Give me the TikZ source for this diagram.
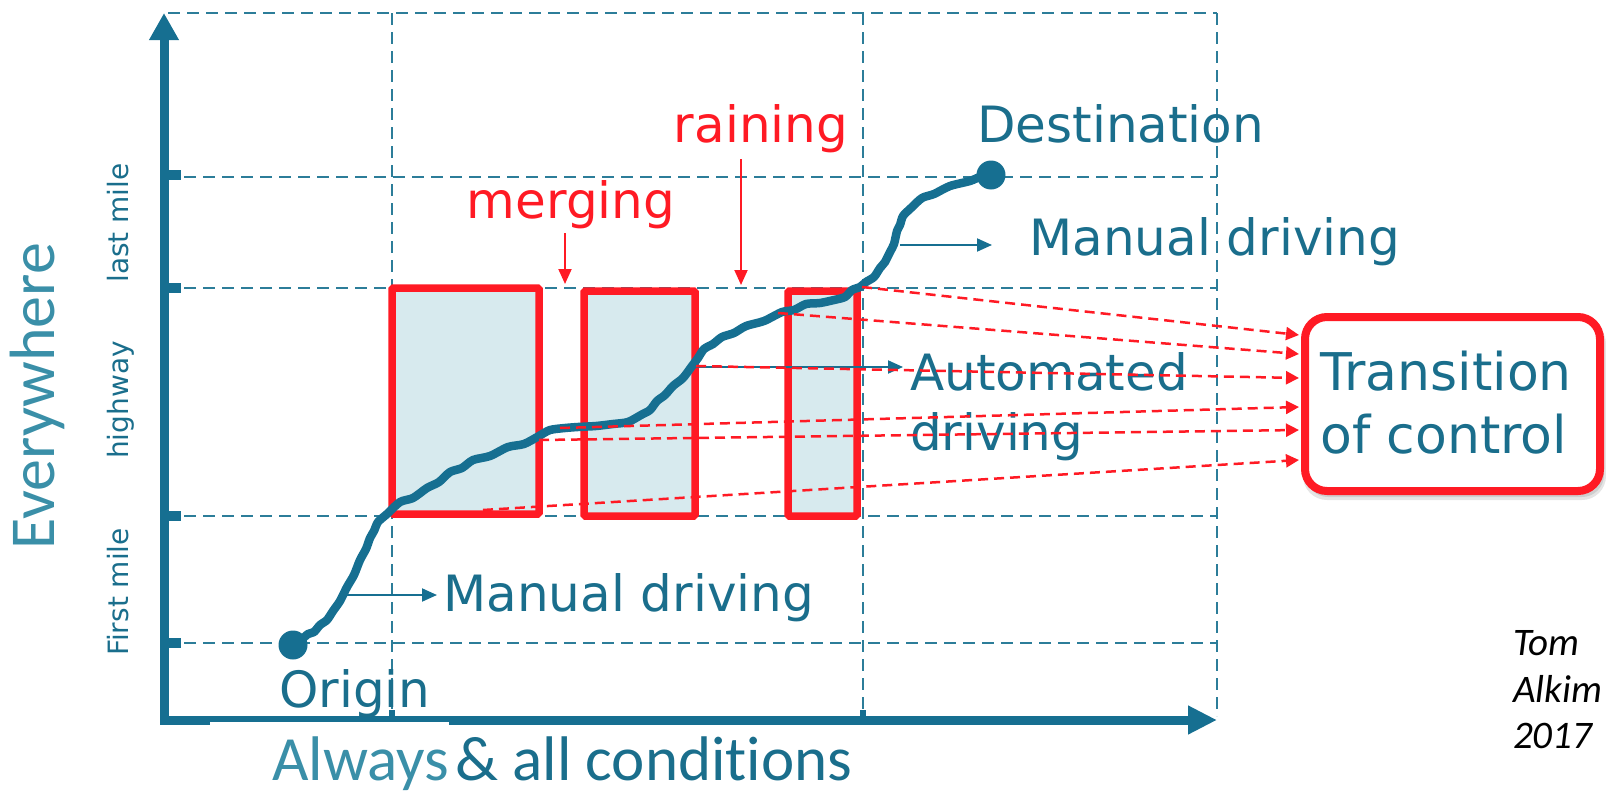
\documentclass[tikz,border=0pt]{standalone}
\usepackage{fontspec}
\setmainfont{DejaVu Sans}
\newfontfamily\carl{Carlito}[Ligatures=NoCommon]
\usetikzlibrary{arrows.meta}
\definecolor{tblue}{HTML}{1A6E8C}
\definecolor{ablue}{HTML}{166F91}
\definecolor{lblue}{HTML}{3A8FA8}
\definecolor{gblue}{HTML}{2C7D99}
\definecolor{rred}{HTML}{FF1A24}
\definecolor{bfill}{HTML}{D7EAEE}
\begin{document}
\begin{tikzpicture}[x=1pt,y=-1pt,
 gridline/.style={gblue, line width=2pt, dash pattern=on 12pt off 7pt},
 redbox/.style={draw=rred, line width=7.5pt, fill=bfill, rounded corners=1.5pt, inner sep=0pt},
 reddash/.style={rred, line width=2.5pt, dash pattern=on 10pt off 6pt, -{Triangle[length=13pt,width=13pt]}},
 redarrow/.style={rred, line width=2pt, -{Triangle[length=15pt,width=13pt]}},
 thinarrow/.style={ablue, line width=2pt, -{Triangle[length=15pt,width=13pt]}},
 bigtext/.style={text=tblue, font=\fontsize{50}{60}\selectfont, inner sep=0pt, anchor=base west},
 redtext/.style={text=rred, font=\fontsize{50}{60}\selectfont, inner sep=0pt, anchor=base},
 sidelabel/.style={text=tblue, font=\fontsize{28}{32}\selectfont, rotate=90, anchor=base, inner sep=0pt},
 signature/.style={font=\carl\itshape\fontsize{39}{48}\selectfont, anchor=base west, inner sep=0pt},
 tick/.style={fill=ablue},
 dot/.style={circle, fill=ablue, minimum size=29pt, inner sep=0pt},
]
\useasboundingbox (0,0) rectangle (1606,795);

% grid
\draw[gridline] (168,13) -- (1217,13);
\foreach \yy in {177,288,516,643} \draw[gridline] (184,\yy) -- (1217,\yy);
\foreach \xx in {392,863,1217} \draw[gridline] (\xx,13) -- (\xx,716);

% axes
\coordinate (ytop) at (164,13);
\coordinate (corner) at (164,720);
\coordinate (xend) at (1217,720);
\draw[ablue, line width=9pt, line join=miter,
  {Triangle[length=27pt,width=28pt]}-{Triangle[length=29pt,width=27pt]}] (ytop) -- (corner) -- (xend);
\foreach \yy in {175,288,516,643} \fill[tick] (164,\yy-5) rectangle (181,\yy+5);
\fill[tick] (389,710) rectangle (395,720);
\fill[tick] (860,710) rectangle (866,720);
\fill[white] (210,721.5) rectangle (449,727);

% red boxes
\node[redbox, minimum width=147pt, minimum height=226pt] (b1) at (465.5,401) {};
\node[redbox, minimum width=111pt, minimum height=225pt] (b2) at (639.5,403.5) {};
\node[redbox, minimum width=69pt, minimum height=225pt] (b3) at (822.5,403.5) {};

% curve
\draw[ablue, line width=8.5pt, line cap=round, line join=round]
  plot[smooth, tension=0.45] coordinates {(293,645) (301,640) (308,634) (314,632) (320,625) (327,620) (333,611) (340,601) (347,587) (354,575) (360,560) (366,549) (370,538) (374,531) (378,522) (387,514) (400,502) (413,498) (427,488) (439,482) (450,472) (462,468) (473,460) (490,456) (508,447) (524,444) (539,436) (550,430) (565,428) (578,427) (596,426) (613,424) (628,422) (641,415) (650,410) (657,401) (665,395) (673,386) (683,378) (692,366) (698,358) (704,349) (713,344) (722,337) (734,333) (746,326) (764,321) (782,312) (794,310) (806,304) (820,303) (834,300) (845,297) (852,290) (860,287) (866,282) (874,277) (880,268) (885,262) (890,252) (894,244) (897,231) (900,225) (903,216) (911,208) (922,198) (934,194) (950,186) (970,181) (982,176) (991,175)};
\node[dot] (origdot) at (293,645) {};
\node[dot] (destdot) at (991,175) {};

% texts
\node[bigtext] (dest) at (977,142) {Destination};
\node[bigtext] (manup) at (1029,255) {Manual driving};
\node[bigtext] (auto1) at (910,390) {Automated};
\node[bigtext] (auto2) at (910,450) {driving};
\node[bigtext] (origin) at (279,707) {Origin};
\node[bigtext] (manlow) at (443,611) {Manual driving};
\node[redtext] (merg) at (571,218) {merging};
\node[redtext] (rain) at (761,142) {raining};

\node[text=lblue, font=\carl\fontsize{64}{72}\selectfont, rotate=90, anchor=base, inner sep=0pt] (every) at (54,396) {Everywhere};
\node[sidelabel] (lastm) at (128,223) {last mile};
\node[sidelabel] (hway) at (128,400) {highway};
\node[sidelabel] (firstm) at (128,592) {First mile};
\node[font=\carl\fontsize{63}{72}\selectfont, anchor=base west, inner sep=0pt] (always) at (272,780) {\textcolor{lblue}{Always}\hspace{0.1em}\textcolor{tblue}{\& all conditions}};

\node[signature] (tom) at (1513,655) {Tom};
\node[signature] (alkim) at (1513,702) {Alkim};
\node[signature] (year) at (1513,748) {2017};

% transition box
\fill[black, opacity=0.10, rounded corners=24pt] (1303,320) rectangle (1606,500);
\fill[black, opacity=0.10, rounded corners=22pt] (1306,321) rectangle (1604,497);
\node[draw=rred, line width=8pt, fill=white, rounded corners=22pt, minimum width=295pt, minimum height=174pt, inner sep=0pt] (trans) at (1452.5,404) {};
\node[bigtext, font=\fontsize{52}{62}\selectfont] (trans1) at (1320,390) {Transition};
\node[bigtext, font=\fontsize{52}{62}\selectfont] (trans2) at (1320,453) {of control};

% blue arrows
\coordinate (mls) at (343,595); \coordinate (mle) at (437,595);
\coordinate (mus) at (900,245); \coordinate (mue) at (992,245);
\coordinate (aus) at (692,367); \coordinate (aue) at (903,367);
\draw[thinarrow] (mls) -- (mle);
\draw[thinarrow] (mus) -- (mue);
\draw[thinarrow] (aus) -- (aue);

% red arrows
\coordinate (mgs) at (565,233); \coordinate (mge) at (565,284);
\coordinate (rns) at (741,159); \coordinate (rne) at (741,285);
\draw[redarrow] (mgs) -- (mge);
\draw[redarrow] (rns) -- (rne);

% red dashed arrows
\coordinate (s1) at (862,287); \coordinate (t1) at (1299,335);
\coordinate (s2) at (778,313); \coordinate (t2) at (1299,354);
\coordinate (s3) at (696,366); \coordinate (t3) at (1299,378);
\coordinate (s4) at (560,428); \coordinate (t4) at (1299,407);
\coordinate (s5) at (539,440); \coordinate (t5) at (1299,430);
\coordinate (s6) at (483,510); \coordinate (t6) at (1299,460);
\foreach \i in {1,...,6} \draw[reddash] (s\i) -- (t\i);
\end{tikzpicture}
\end{document}
